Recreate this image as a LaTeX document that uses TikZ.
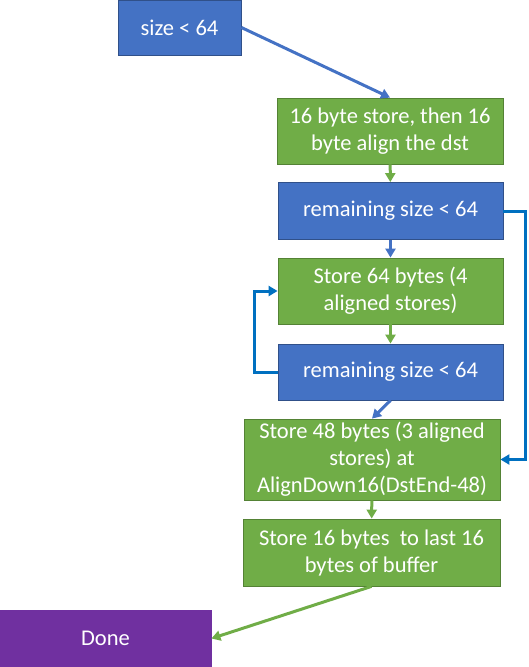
\documentclass[tikz,border=0pt]{standalone}
\usepackage{fontspec}
\setmainfont{Carlito}
\usetikzlibrary{arrows.meta}
\definecolor{boxblue}{HTML}{4472C4}
\definecolor{boxgreen}{HTML}{70AD47}
\definecolor{boxpurple}{HTML}{7030A0}
\definecolor{loopblue}{HTML}{0070C0}
\begin{document}
\begin{tikzpicture}[x=1pt,y=-1pt,
    box/.style={rectangle,draw,line width=.8pt,text=white,align=center,
      inner sep=0pt,font=\fontsize{22.5}{27}\selectfont},
    bluebox/.style={box,fill=boxblue,draw=boxblue!70!black},
    greenbox/.style={box,fill=boxgreen,draw=boxgreen!75!black},
    purplebox/.style={box,fill=boxpurple,draw=boxpurple}]

      \useasboundingbox (0,0) rectangle (528,667);

      \node[bluebox,minimum width=123pt,minimum height=55pt]   (size)   at (179.5,27.5) {size < 64};
      \node[greenbox,minimum width=226pt,minimum height=66pt]  (align)  at (390,131)    {16 byte store, then 16\\byte align the dst};
      \node[bluebox,minimum width=225pt,minimum height=57pt]   (rem1)   at (390.5,211)  {remaining size < 64};
      \node[greenbox,minimum width=225pt,minimum height=66pt]  (store4) at (390.5,291)  {Store 64 bytes (4\\aligned stores)};
      \node[bluebox,minimum width=225pt,minimum height=56pt]   (rem2)   at (390.5,372)  {remaining size < 64};
      \node[greenbox,minimum width=256pt,minimum height=81pt]  (store3) at (372,459.5)  {Store 48 bytes (3 aligned\\stores) at\\AlignDown16(DstEnd-48)};
      \node[greenbox,minimum width=257pt,minimum height=67pt]  (last)   at (371.5,552.5){Store 16 bytes\ \ to last 16\\bytes of buffer};
      \node[purplebox,minimum width=211pt,minimum height=57pt] (done)   at (105.5,638.5){Done};

      \begin{scope}[every edge/.style={draw,line width=3pt,-{Triangle[length=9pt,width=10pt]}}]
        \path (size.east)   edge[boxblue]  (align.north);
        \path (align)       edge[boxgreen] (rem1);
        \path (rem1)        edge[boxblue]  (store4);
        \path (store4)      edge[boxgreen] (rem2);
        \path (rem2.south)  edge[boxblue]  (store3.north);
        \path (store3)      edge[boxgreen] (last);
        \path (last.south)  edge[boxgreen] (done.east);
      \end{scope}

      \begin{scope}[loopblue,line width=3pt,-{Triangle[length=9pt,width=10pt]}]
        \draw (rem2.west) -- ++(-23,0) |- (store4.west);
        \draw (rem1.east) -- ++(22,0) |- (store3.east);
      \end{scope}

    \end{tikzpicture}
\end{document}
